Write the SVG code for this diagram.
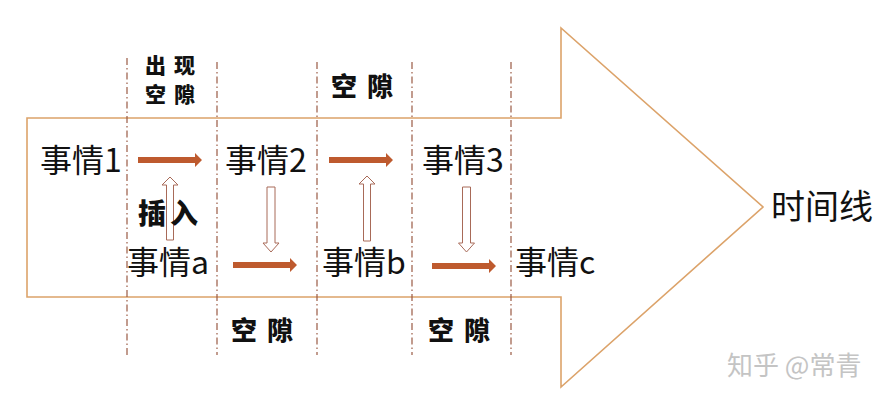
<svg xmlns="http://www.w3.org/2000/svg" width="889" height="401" viewBox="0 0 889 401">
<defs>
<style>
.big{fill:none;stroke:#DCA36A;stroke-width:1.6}
.dash{stroke:#9A5A44;stroke-width:1.2;stroke-dasharray:7 3 1.5 3;fill:none}
.solid{fill:#BE5A2E}
.hollow{fill:#fff;stroke:#A86A58;stroke-width:1}
.t{font-family:"Noto Sans CJK SC","Liberation Sans",sans-serif;font-size:32px;fill:#111}
.b{font-family:"Noto Sans CJK SC","Liberation Sans",sans-serif;font-weight:900;fill:#111}
.wm{font-family:"Noto Sans CJK SC","Liberation Sans",sans-serif;font-size:26px;fill:#c4c4c4}
</style>
</defs>
<rect width="889" height="401" fill="#fff"/>
<g id="timeline">
<polygon class="big" points="27,118 561,118 561,28 763,207 561,387 561,297 27,297"/>
</g>
<g id="guides">
<line class="dash" x1="127" y1="58" x2="127" y2="355"/>
<line class="dash" x1="217" y1="62" x2="217" y2="355"/>
<line class="dash" x1="317" y1="62" x2="317" y2="355"/>
<line class="dash" x1="412" y1="62" x2="412" y2="355"/>
<line class="dash" x1="511" y1="62" x2="511" y2="355"/>
</g>
<g id="connectors">
<polygon class="solid" points="138,157 195,157 195,153 202,160 195,167 195,163 138,163"/>
<polygon class="solid" points="329,157 386,157 386,153 393,160 386,167 386,163 329,163"/>
<polygon class="solid" points="233,262 290,262 290,258 297,265 290,272 290,268 233,268"/>
<polygon class="solid" points="432,263 489,263 489,259 496,266 489,273 489,269 432,269"/>
<polygon class="hollow" points="166.5,240 166.5,185 162,185 170,177 178,185 173.5,185 173.5,240"/>
<polygon class="hollow" points="363.5,241 363.5,184 359,184 367,176 375,184 370.5,184 370.5,241"/>
<polygon class="hollow" points="267,187 275,187 275,243 279,243 271,252 263,243 267,243"/>
<polygon class="hollow" points="462.5,187 470.5,187 470.5,243 474.5,243 466.5,252 458.5,243 462.5,243"/>
</g>
<g id="event1"><text class="t" x="40" y="172">事情1</text></g>
<g id="event2"><text class="t" x="225" y="172">事情2</text></g>
<g id="event3"><text class="t" x="422" y="172">事情3</text></g>
<g id="eventa"><text class="t" x="127" y="274">事情a</text></g>
<g id="eventb"><text class="t" x="322" y="274">事情b</text></g>
<g id="eventc"><text class="t" x="515" y="274">事情c</text></g>
<g id="timeline-label"><text class="t" x="771" y="219" style="font-size:34px">时间线</text></g>
<g id="label-gap-appear">
<text class="b" x="145" y="73" font-size="21" letter-spacing="8">出现</text>
<text class="b" x="145" y="102" font-size="21" letter-spacing="8">空隙</text>
</g>
<g id="label-insert"><text class="b" x="138" y="224" font-size="28" letter-spacing="4">插入</text></g>
<g id="label-gap-top"><text class="b" x="331" y="96" font-size="26" letter-spacing="10">空隙</text></g>
<g id="label-gap-b1"><text class="b" x="231" y="340" font-size="26" letter-spacing="10">空隙</text></g>
<g id="label-gap-b2"><text class="b" x="428" y="340" font-size="26" letter-spacing="10">空隙</text></g>
<text class="wm" x="727" y="375">知乎 @常青</text>
</svg>
